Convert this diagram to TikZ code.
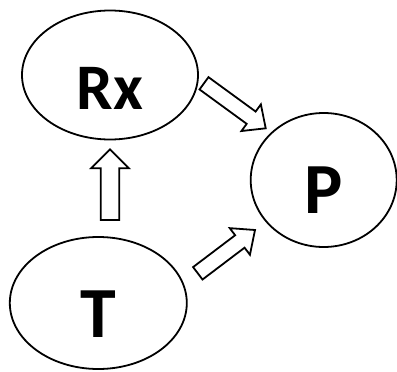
\documentclass[tikz,border=0pt]{standalone}
\usepackage{fontspec}
\setmainfont{Carlito}
\usepackage{tikz}
\usetikzlibrary{
  shapes.geometric,
  calc
}
\tikzset{
    state/.style={ellipse, draw=black, line width=1.8pt, inner sep=0pt, text depth=0pt},
    smalllabel/.style={font=\bfseries\fontsize{65}{65}\selectfont},
    biglabel/.style={font=\bfseries\fontsize{72}{72}\selectfont},
    blockline/.style={draw=black, fill=white, line width=1.8pt, line join=miter},
}
% tail, tip, half shaft, half head, head length
\newcommand{\blockarrow}[5]{%
    \coordinate (ba base) at ($(#2)!#5!(#1)$);
    \draw[blockline] ($(#1)!#3!90:(#2)$) -- ($(ba base)!#3!90:(#2)$)
        -- ($(ba base)!#4!90:(#2)$) -- (#2) -- ($(ba base)!#4!-90:(#2)$)
        -- ($(ba base)!#3!-90:(#2)$) -- ($(#1)!#3!-90:(#2)$) -- cycle;
}

\begin{document}
\begin{tikzpicture}[x=1pt, y=-1pt]
            \useasboundingbox (0,0) rectangle (397,372);

            \node[state, smalllabel, minimum width=176pt, minimum height=129pt, text height=68pt] (rx) at (110,75) {Rx};
            \node[state, biglabel, minimum width=146pt, minimum height=134pt, text height=66pt] (p) at (323.7,180) {P};
            \node[state, biglabel, minimum width=177pt, minimum height=132pt, text height=68pt] (t) at (98.3,303) {T};

            \coordinate (t2rx tail) at (110,220);
            \coordinate (t2rx tip) at (110,149.3);
            \coordinate (rx2p tail) at (204,83.3);
            \coordinate (rx2p tip) at (265.7,128.3);
            \coordinate (t2p tail) at (197.8,273.3);
            \coordinate (t2p tip) at (255,230);

            \blockarrow{t2rx tail}{t2rx tip}{9.3pt}{19pt}{19pt}
            \blockarrow{rx2p tail}{rx2p tip}{7.6pt}{16.5pt}{18pt}
            \blockarrow{t2p tail}{t2p tip}{7.8pt}{16.7pt}{19pt}
\end{tikzpicture}
\end{document}
